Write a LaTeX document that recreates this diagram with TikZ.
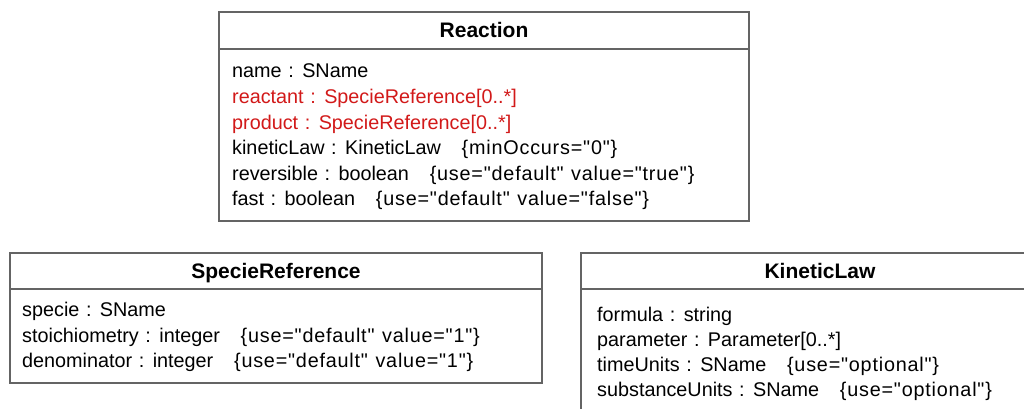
\documentclass[tikz,border=0pt]{standalone}
\usepackage{fontspec}
\setmainfont{Liberation Sans}[Ligatures=TeXOff,WordSpace=1.2]
\definecolor{boxline}{RGB}{100,100,100}
\definecolor{attred}{RGB}{210,25,25}
\newcommand{\cons}[1]{\hspace{1.05em}{\addfontfeatures{LetterSpace=4}\{#1\}}}
\begin{document}
\begin{tikzpicture}[x=1pt,y=-1pt,
  classbox/.style={draw=boxline,line width=2pt},
  title/.style={anchor=base,inner sep=0pt,font=\fontsize{21}{24}\selectfont\bfseries},
  attr/.style={anchor=base west,inner sep=0pt,font=\fontsize{19.8}{24}\selectfont},
  redattr/.style={attr,text=attred}]
\useasboundingbox (0,0) rectangle (1024,409);
\clip (0,0) rectangle (1024,409);
\fill[white] (0,0) rectangle (1024,409);
% Reaction
\draw[classbox] (219,12.5) rectangle (749,220.5);
\draw[classbox] (219,49) -- (749,49);
\node[title] (rt) at (484,37.5) {Reaction};
\node[attr] (r1) at (232,78) {name : SName};
\node[redattr] (r2) at (232,103.5) {reactant : SpecieReference[0..*]};
\node[redattr] (r3) at (232,129) {product : SpecieReference[0..*]};
\node[attr] (r4) at (232,154.5) {kineticLaw : KineticLaw\cons{minOccurs="0"}};
\node[attr] (r5) at (232,180) {reversible : boolean\cons{use="default" value="true"}};
\node[attr] (r6) at (232,205.5) {fast : boolean\cons{use="default" value="false"}};
% SpecieReference
\draw[classbox] (9.5,253) rectangle (542,383);
\draw[classbox] (9.5,289) -- (542,289);
\node[title] (st) at (276,278) {SpecieReference};
\node[attr] (s1) at (22,316.5) {specie : SName};
\node[attr] (s2) at (22,342) {stoichiometry : integer\cons{use="default" value="1"}};
\node[attr] (s3) at (22,367.5) {denominator : integer\cons{use="default" value="1"}};
% KineticLaw
\draw[classbox] (581,253) rectangle (1059,430);
\draw[classbox] (581,289) -- (1059,289);
\node[title] (kt) at (820,278) {KineticLaw};
\node[attr] (k1) at (597,321.5) {formula : string};
\node[attr] (k2) at (597,346.5) {parameter : Parameter[0..*]};
\node[attr] (k3) at (597,371.5) {timeUnits : SName\cons{use="optional"}};
\node[attr] (k4) at (597,396.5) {substanceUnits : SName\cons{use="optional"}};
\end{tikzpicture}
\end{document}
